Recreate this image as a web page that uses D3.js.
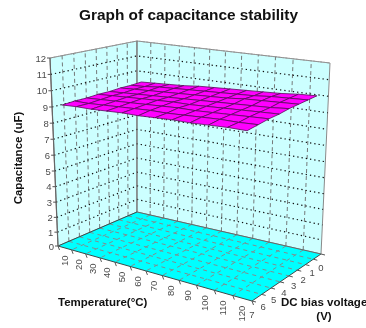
<!DOCTYPE html>
<html lang="en">
<head>
<meta charset="UTF-8">
<title>Graph of capacitance stability</title>
<script src="https://d3js.org/d3.v7.min.js"></script>
<style>
html,body{margin:0;padding:0;background:#fff}
svg{display:block;filter:blur(0.35px)}
text{font-family:"Liberation Sans",Arial,sans-serif}
.tick-label{font-size:9.5px;fill:#4a4a4a}
.axis-title{font-size:11.5px;font-weight:bold;fill:#111}
</style>
</head>
<body>
<svg id="chart" width="366" height="328"></svg>
<script>
const temps = [10, 20, 30, 40, 50, 60, 70, 80, 90, 100, 110, 120];
const volts = [0, 1, 2, 3, 4, 5, 6, 7];
const capTicks = [0, 1, 2, 3, 4, 5, 6, 7, 8, 9, 10, 11, 12];
// one row per DC bias voltage, one value per temperature
const cap0V = [9.35, 9.4, 9.45, 9.5, 9.6, 9.65, 9.7, 9.75, 9.8, 9.85, 9.95, 10];
const cap1V = [9.3, 9.35, 9.45, 9.5, 9.55, 9.6, 9.65, 9.7, 9.75, 9.85, 9.9, 9.95];
const cap2V = [9.3, 9.35, 9.4, 9.45, 9.5, 9.55, 9.6, 9.65, 9.75, 9.8, 9.85, 9.9];
const cap3V = [9.25, 9.3, 9.35, 9.4, 9.45, 9.5, 9.55, 9.6, 9.65, 9.7, 9.75, 9.85];
const cap4V = [9.25, 9.3, 9.35, 9.4, 9.45, 9.5, 9.5, 9.55, 9.6, 9.65, 9.7, 9.75];
const cap5V = [9.2, 9.25, 9.3, 9.35, 9.4, 9.45, 9.5, 9.5, 9.55, 9.6, 9.65, 9.7];
const cap6V = [9.2, 9.2, 9.25, 9.3, 9.35, 9.4, 9.4, 9.45, 9.5, 9.55, 9.55, 9.6];
const cap7V = [9.15, 9.2, 9.2, 9.25, 9.3, 9.3, 9.35, 9.4, 9.4, 9.45, 9.5, 9.5];
const capacitance = [cap0V, cap1V, cap2V, cap3V, cap4V, cap5V, cap6V, cap7V];

const svg = d3.select('#chart');

// corners of the box on screen: back, right, front, left
const floorQuad = [[137, 212], [321, 254], [252, 301], [58, 246]];
const topQuad = [[137, 41], [330, 63], [255, 87], [50, 58]];

// unit square -> quad (projective)
function quadMap(q) {
  const [[x0, y0], [x1, y1], [x2, y2], [x3, y3]] = q;
  const dx1 = x1 - x2, dx2 = x3 - x2, sx = x0 - x1 + x2 - x3;
  const dy1 = y1 - y2, dy2 = y3 - y2, sy = y0 - y1 + y2 - y3;
  const den = dx1 * dy2 - dx2 * dy1;
  const g = (sx * dy2 - dx2 * sy) / den;
  const h = (dx1 * sy - sx * dy1) / den;
  const a = x1 - x0 + g * x1, b = x3 - x0 + h * x3;
  const d = y1 - y0 + g * y1, e = y3 - y0 + h * y3;
  return (u, v) => {
    const k = g * u + h * v + 1;
    return [(a * u + b * v + x0) / k, (d * u + e * v + y0) / k];
  };
}
const floorAt = quadMap(floorQuad);
const topAt = quadMap(topQuad);

const tScale = d3.scaleBand().domain(temps).range([0, 1]);
const vScale = d3.scaleBand().domain(volts).range([0, 1]);
// the surface sits a little closer to the walls than the band centres
const tSurf = d3.scalePoint().domain(temps).range([0, 1]).padding(0.5);
const vSurf = d3.scalePoint().domain(volts).range([0, 1]).padding(0.25);
const vLabel = d3.scalePoint().domain(volts).range([0, 1]);
const zScale = d3.scalePow().exponent(1.05).domain([0, 12]).range([0, 1]);

function project(u, v, c) {
  const a = floorAt(u, v), b = topAt(u, v), t = zScale(c);
  return [a[0] + (b[0] - a[0]) * t, a[1] + (b[1] - a[1]) * t];
}
const line = d3.line();
const tMid = t => tScale(t) + tScale.bandwidth() / 2;
const tEdges = temps.map(t => tScale(t)).concat([1]);
const vEdges = volts.map(v => vScale(v)).concat([1]);

// walls
svg.append('path').attr('fill', '#ccffff').attr('stroke', '#8a8a8a').attr('stroke-width', 1)
  .attr('d', line([project(0, 1, 0), project(0, 0, 0), project(0, 0, 12), project(0, 1, 12)]) + 'Z');
svg.append('path').attr('fill', '#ccffff').attr('stroke', '#8a8a8a').attr('stroke-width', 1)
  .attr('d', line([project(0, 0, 0), project(1, 0, 0), project(1, 0, 12), project(0, 0, 12)]) + 'Z');

// wall grid, verticals dashed
const wallVerts = vEdges.slice(1, -1).map(v => [project(0, v, 0), project(0, v, 12)])
  .concat(tEdges.slice(1, -1).map(u => [project(u, 0, 0), project(u, 0, 12)]));
svg.append('g').selectAll('path').data(wallVerts).join('path')
  .attr('d', line).attr('fill', 'none').attr('stroke', '#6a6a6a')
  .attr('stroke-width', 0.9).attr('stroke-dasharray', '4 3');

// wall grid, horizontals dotted
const wallHoriz = capTicks.slice(1, -1).map(c => [project(0, 1, c), project(0, 0, c), project(1, 0, c)]);
svg.append('g').selectAll('path').data(wallHoriz).join('path')
  .attr('d', line).attr('fill', 'none').attr('stroke', '#111')
  .attr('stroke-width', 1.2).attr('stroke-dasharray', '1.3 3');

// back edges on top of the grid
svg.append('path').attr('fill', 'none').attr('stroke', '#9a9a9a').attr('stroke-width', 1)
  .attr('stroke-dasharray', '2 1.5')
  .attr('d', line([project(0, 1, 12), project(0, 0, 12), project(1, 0, 12)]));
svg.append('path').attr('fill', 'none').attr('stroke', '#777').attr('stroke-width', 1)
  .attr('d', line([project(0, 0, 0), project(0, 0, 12)]));

// floor
svg.append('path').attr('fill', '#00ffff').attr('stroke', 'none')
  .attr('d', line([project(0, 0, 0), project(1, 0, 0), project(1, 1, 0), project(0, 1, 0)]) + 'Z');
const floorLines = vEdges.slice(1, -1).map(v => [project(0, v, 0), project(1, v, 0)])
  .concat(tEdges.slice(1, -1).map(u => [project(u, 0, 0), project(u, 1, 0)]));
svg.append('g').selectAll('path').data(floorLines).join('path')
  .attr('d', line).attr('fill', 'none').attr('stroke', '#7f8f8f')
  .attr('stroke-width', 1).attr('stroke-dasharray', '4 4');
// floor edges with the two axes
svg.append('path').attr('fill', 'none').attr('stroke', '#3c4a4a').attr('stroke-width', 1)
  .attr('d', line([project(0, 0, 0), project(0, 1, 0), project(1, 1, 0), project(1, 0, 0)]));
svg.append('path').attr('fill', 'none').attr('stroke', '#666').attr('stroke-width', 1)
  .attr('d', line([project(0, 0, 0), project(1, 0, 0)]));

// surface
const cells = [];
volts.slice(0, -1).forEach((v, i) => {
  temps.slice(0, -1).forEach((t, j) => {
    cells.push([
      project(tSurf(temps[j]), vSurf(volts[i]), capacitance[i][j]),
      project(tSurf(temps[j + 1]), vSurf(volts[i]), capacitance[i][j + 1]),
      project(tSurf(temps[j + 1]), vSurf(volts[i + 1]), capacitance[i + 1][j + 1]),
      project(tSurf(temps[j]), vSurf(volts[i + 1]), capacitance[i + 1][j])
    ]);
  });
});
svg.append('g').selectAll('path').data(cells).join('path')
  .attr('d', d => line(d) + 'Z').attr('fill', '#ff00ff')
  .attr('stroke', '#5a0a5a').attr('stroke-width', 0.8);

// capacitance axis, on the left edge of the box
const capAxis = svg.append('g');
capAxis.append('path').attr('fill', 'none').attr('stroke', '#666').attr('stroke-width', 1.2)
  .attr('d', line([project(0, 1, 0), project(0, 1, 12)]));
capAxis.selectAll('line').data(capTicks).join('line')
  .attr('x1', c => project(0, 1, c)[0] - 3).attr('x2', c => project(0, 1, c)[0])
  .attr('y1', c => project(0, 1, c)[1]).attr('y2', c => project(0, 1, c)[1])
  .attr('stroke', '#555');
capAxis.selectAll('text').data(capTicks).join('text')
  .attr('class', 'tick-label').attr('text-anchor', 'end')
  .attr('x', c => project(0, 1, c)[0] - 4).attr('y', c => project(0, 1, c)[1] + 3.5)
  .text(c => c);

// temperature axis
const tTicks = svg.append('g');
tTicks.selectAll('line').data(tEdges).join('line')
  .attr('x1', u => project(u, 1, 0)[0]).attr('y1', u => project(u, 1, 0)[1])
  .attr('x2', u => project(u, 1, 0)[0] + 1.5).attr('y2', u => project(u, 1, 0)[1] + 4)
  .attr('stroke', '#555');
tTicks.selectAll('text').data(temps).join('text')
  .attr('class', 'tick-label').attr('text-anchor', 'end')
  .attr('transform', t => {
    const p = project(tMid(t), 1, 0);
    return `translate(${p[0] + 3},${p[1] + 7.5}) rotate(-90)`;
  })
  .text(t => t);

// voltage axis
const vTicks = svg.append('g');
vTicks.selectAll('line').data(vEdges).join('line')
  .attr('x1', v => project(1, v, 0)[0]).attr('y1', v => project(1, v, 0)[1])
  .attr('x2', v => project(1, v, 0)[0] + 4).attr('y2', v => project(1, v, 0)[1] + 1)
  .attr('stroke', '#555');
vTicks.selectAll('text').data(volts).join('text')
  .attr('class', 'tick-label').attr('text-anchor', 'middle')
  .attr('x', v => project(1, vLabel(v), 0)[0]).attr('y', v => project(1, vLabel(v), 0)[1] + 16.5)
  .text(v => v);

// titles
svg.append('text').attr('x', 188.5).attr('y', 20).attr('text-anchor', 'middle')
  .attr('font-size', 15.4).attr('font-weight', 'bold').attr('fill', '#111')
  .text('Graph of capacitance stability');
svg.append('text').attr('class', 'axis-title').attr('text-anchor', 'middle')
  .attr('transform', 'translate(22,158) rotate(-90)').text('Capacitance (uF)');
svg.append('text').attr('class', 'axis-title').attr('x', 58).attr('y', 305.5)
  .text('Temperature(°C)');
svg.append('text').attr('class', 'axis-title').attr('x', 281).attr('y', 305.5)
  .text('DC bias voltage');
svg.append('text').attr('class', 'axis-title').attr('x', 324).attr('y', 320)
  .attr('text-anchor', 'middle').text('(V)');
</script>
</body>
</html>
